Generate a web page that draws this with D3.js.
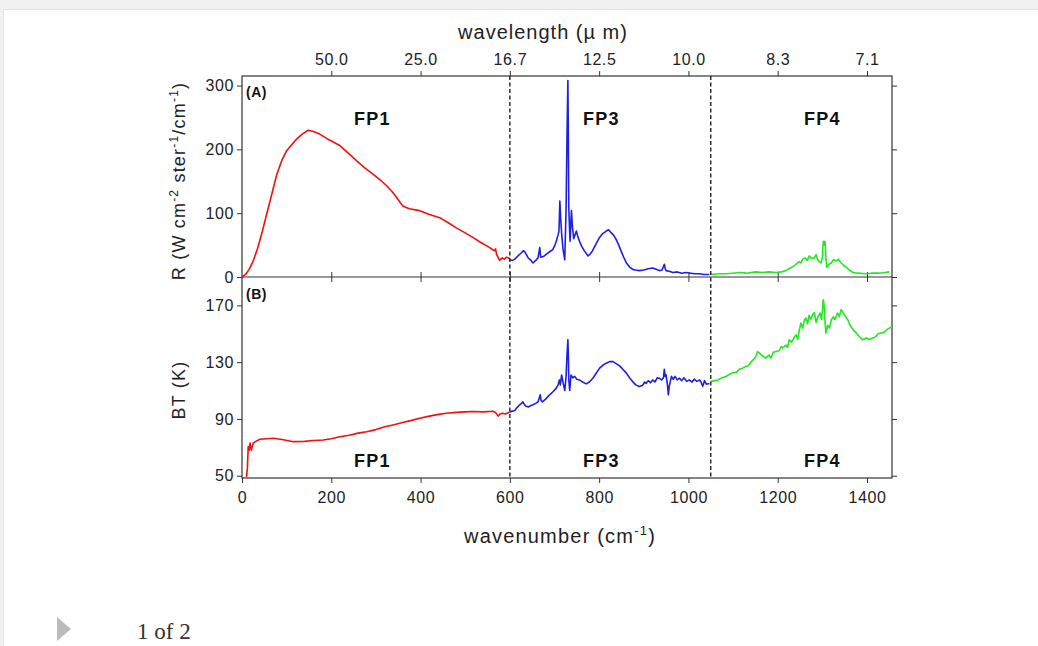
<!DOCTYPE html>
<html>
<head>
<meta charset="utf-8">
<script src="https://cdn.jsdelivr.net/npm/d3@7"></script>
<style>
  html, body { margin: 0; padding: 0; background: #f1f1f1; }
  svg { display: block; font-family: "Liberation Sans", Arial, sans-serif; }
  .axis path, .axis line { stroke: #333; }
  .axis text { font-size: 16px; letter-spacing: 0.6px; fill: #222; font-family: "Liberation Sans", Arial, sans-serif; }
</style>
</head>
<body>
<svg id="chart" width="1038" height="646"></svg>
<script>
// wavenumber ticks (cm-1), top axis shows wavelength 10000/nu
const wnTicks = [0, 200, 400, 600, 800, 1000, 1200, 1400];
const wlTicks = [200, 400, 600, 800, 1000, 1200, 1400];
const rTicks = [0, 100, 200, 300];
const btTicks = [50, 90, 130, 170];
const bandEdges = [600, 1050];
const bands = [
  {name: "FP1", center: 292},
  {name: "FP3", center: 805},
  {name: "FP4", center: 1300}
];

// panel A: radiance, [wavenumber, R]
const fp1R = [[0,0],[8,4],[16,12],[25,25],[35,45],[45,70],[55,98],[65,125],[78,161],[90,184],[100,198],[112,208],[122,216],[135,224],[148,230],[160,228],[174,224],[195,215],[219,206],[240,193],[257,182],[275,171],[294,161],[310,152],[324,143],[336,134],[346,125],[355,116],[361,111],[375,107],[398,104],[420,98],[443,93],[462,85],[480,77],[498,70],[517,62],[535,54],[555,46],[565,41],[568,44],[570,36],[577,26],[583,30],[588,28],[592,31],[600,29]];
const fp3R = [[600,27],[606,26],[611,28],[618,33],[626,38],[630,41],[633,40],[637,35],[641,30],[646,27],[652,22],[658,26],[663,30],[666,42],[667,46],[669,31],[675,32],[682,36],[690,40],[696,43],[701,50],[704,56],[708,66],[710,72],[712,119],[714,90],[716,68],[719,44],[723,27],[726,109],[728,220],[730,308],[731,220],[732,109],[734,70],[735,56],[737,90],[738,104],[740,80],[743,60],[746,66],[749,72],[752,64],[756,56],[761,48],[767,41],[771,37],[775,33],[780,36],[785,41],[793,52],[801,62],[808,68],[816,72],[821,74],[826,70],[832,66],[838,59],[844,50],[849,41],[855,31],[861,22],[868,16],[875,12],[882,11],[890,10],[900,11],[910,13],[920,14],[928,12],[935,10],[941,11],[946,20],[948,13],[950,10],[957,9],[965,7],[975,8],[985,6],[995,7],[1005,6],[1015,5],[1025,5],[1035,4],[1047,4]];
const fp4R = [[1050,4],[1070,5],[1085,5],[1099,6],[1115,7],[1130,6],[1151,8],[1165,7],[1180,8],[1196,7],[1208,8],[1218,10],[1228,14],[1236,17],[1241,20],[1248,24],[1252,22],[1256,28],[1262,30],[1266,26],[1271,33],[1276,29],[1282,30],[1286,35],[1289,28],[1293,24],[1297,22],[1300,30],[1302,56],[1304,50],[1306,56],[1308,30],[1310,15],[1315,20],[1320,22],[1325,27],[1331,25],[1336,28],[1342,22],[1348,18],[1354,15],[1360,11],[1369,7],[1380,6],[1397,5],[1410,6],[1427,6],[1440,7],[1450,8]];

// panel B: brightness temperature, [wavenumber, BT]
const fp1BT = [[10,49],[12,55],[14,70.5],[16,68],[18,73],[21,68],[25,73],[30,74],[40,75.7],[55,76],[70,76.4],[90,75.5],[115,74],[140,74.2],[160,74.8],[182,75.2],[200,76],[219,77.5],[240,78.5],[260,80],[279,81],[300,82.5],[320,84.5],[338,85.8],[360,87.5],[380,89],[398,90.5],[420,92],[440,93.2],[458,94],[480,94.6],[500,95],[517,95.2],[540,95],[562,95.4],[568,94.5],[574,92],[578,93.5],[583,94],[590,93.5],[600,95]];
const fp3BT = [[600,95],[606,95.5],[611,96],[616,98],[622,100],[626,101],[629,102],[633,100],[636,99],[642,98.5],[647,99.5],[652,100],[658,101],[663,102],[666,105],[668,107],[670,103],[673,102],[680,104],[689,107],[696,109],[704,111.7],[708,114],[711,117.5],[713,114],[716,121],[719,116],[723,110],[726,120],[728,135],[730,145.8],[731,135],[732,118],[734,110],[737,121],[741,119],[745,120],[750,118],[756,117.5],[763,116],[771,114.7],[778,116],[786,118.7],[793,122],[801,125.8],[808,127.8],[816,129.3],[823,130.4],[831,130.4],[838,129],[846,127.4],[853,125],[861,122.3],[868,119],[875,116.3],[882,114],[890,112.8],[897,113.5],[902,116],[905,115],[910,117],[915,115.5],[920,117.5],[925,116],[930,119],[935,118.6],[940,117.5],[944,119],[946,125],[948,120],[950,121],[953,114],[955,107],[957,113],[962,120],[966,118],[970,120],[975,117.5],[980,118.7],[985,117],[990,119],[996,116.5],[1002,117.5],[1008,116],[1013,118],[1019,116.5],[1025,117.5],[1028,116],[1032,113],[1036,117],[1040,114.5],[1047,115]];
const fp4BT = [[1050,116.3],[1058,117],[1066,117.5],[1075,119],[1084,119.9],[1092,121.5],[1100,122.5],[1108,123],[1114,125],[1121,125.8],[1128,127],[1134,127.5],[1140,130],[1146,132],[1151,134],[1155,137.5],[1160,136],[1166,134.5],[1173,132.8],[1180,135],[1185,133],[1190,137],[1196,137.5],[1203,138],[1208,141],[1211,140],[1218,142],[1222,140.5],[1226,145.8],[1231,144],[1236,147],[1241,149.3],[1245,146],[1248,152],[1252,157.6],[1256,154],[1260,160],[1263,161],[1267,157],[1270,163],[1274,160],[1278,163.4],[1282,165],[1286,158],[1290,162],[1295,164.6],[1298,160],[1300,166],[1302,174],[1304,170],[1306,158],[1308,150.5],[1312,156],[1316,154],[1320,159.9],[1325,162],[1328,160],[1334,164.6],[1338,162],[1342,167],[1345,165.8],[1350,163],[1357,159.9],[1362,156],[1369,152.8],[1375,151],[1380,149],[1386,147],[1391,145.8],[1398,147],[1405,146],[1413,147],[1420,148],[1425,150],[1431,150.5],[1438,151],[1445,153],[1450,154],[1456,155]];

const seriesA = [
  {data: fp1R, color: "#f01010"},
  {data: fp3R, color: "#1f1fe0"},
  {data: fp4R, color: "#22e822"}
];
const seriesB = [
  {data: fp1BT, color: "#f01010"},
  {data: fp3BT, color: "#1f1fe0"},
  {data: fp4BT, color: "#22e822"}
];

const svg = d3.select("#chart");
const plotLeft = 242, plotRight = 892, plotTop = 76, plotMid = 277, plotBottom = 478;

// page card
svg.append("rect").attr("x", 0).attr("y", 0).attr("width", 1038).attr("height", 646).attr("fill", "#f1f1f1");
svg.append("rect").attr("x", 3.5).attr("y", 9.5).attr("width", 1040).attr("height", 640)
    .attr("fill", "#fff").attr("stroke", "#e4e4e4");

const x = d3.scaleLinear().domain([0, 1456]).range([plotLeft, plotRight]);
const yA = d3.scaleLinear().domain([0, 315]).range([plotMid, plotTop]);
const yB = d3.scaleLinear().domain([48.4, 190]).range([plotBottom, plotMid]);

function styleAxis(g) {
  g.attr("class", "axis");
  g.select(".domain").remove();
}

// axes
svg.append("g").attr("transform", `translate(${plotLeft},0)`)
    .call(d3.axisLeft(yA).tickValues(rTicks).tickSize(5).tickPadding(3)).call(styleAxis);
svg.append("g").attr("transform", `translate(${plotLeft},0)`)
    .call(d3.axisLeft(yB).tickValues(btTicks).tickSize(5).tickPadding(3)).call(styleAxis);
svg.append("g").attr("transform", `translate(${plotRight},0)`)
    .call(d3.axisRight(yA).tickValues(rTicks).tickSize(5).tickFormat("")).call(styleAxis);
svg.append("g").attr("transform", `translate(${plotRight},0)`)
    .call(d3.axisRight(yB).tickValues(btTicks).tickSize(5).tickFormat("")).call(styleAxis);
svg.append("g").attr("transform", `translate(0,${plotBottom})`)
    .call(d3.axisBottom(x).tickValues(wnTicks).tickSize(5).tickPadding(9).tickFormat(d3.format("d")))
    .call(styleAxis);
svg.append("g").attr("transform", `translate(0,${plotTop})`)
    .call(d3.axisTop(x).tickValues(wlTicks).tickSize(5).tickPadding(6)
      .tickFormat(d => (10000 / d).toFixed(1))).call(styleAxis);
// ticks on the shared middle line, both directions
svg.append("g").attr("transform", `translate(0,${plotMid})`)
    .call(d3.axisBottom(x).tickValues(wnTicks.slice(1)).tickSize(5).tickFormat("")).call(styleAxis);
svg.append("g").attr("transform", `translate(0,${plotMid})`)
    .call(d3.axisTop(x).tickValues(wnTicks.slice(1)).tickSize(5).tickFormat("")).call(styleAxis);

// frame
svg.append("rect").attr("x", plotLeft).attr("y", plotTop)
    .attr("width", plotRight - plotLeft).attr("height", plotBottom - plotTop)
    .attr("fill", "none").attr("stroke", "#333").attr("stroke-width", 1.2);
svg.append("line").attr("x1", plotLeft).attr("x2", plotRight).attr("y1", plotMid).attr("y2", plotMid)
    .attr("stroke", "#333").attr("stroke-width", 1.2);

// spectra
const lineA = d3.line().x(d => x(d[0])).y(d => yA(d[1]));
const lineB = d3.line().x(d => x(d[0])).y(d => yB(d[1]));
svg.append("g").selectAll("path").data(seriesA).join("path")
    .attr("d", d => lineA(d.data)).attr("fill", "none")
    .attr("stroke", d => d.color).attr("stroke-width", 1.6).attr("stroke-linejoin", "round");
svg.append("g").selectAll("path").data(seriesB).join("path")
    .attr("d", d => lineB(d.data)).attr("fill", "none")
    .attr("stroke", d => d.color).attr("stroke-width", 1.6).attr("stroke-linejoin", "round");

// band edges
svg.append("g").selectAll("line").data(bandEdges).join("line")
    .attr("x1", d => x(d)).attr("x2", d => x(d)).attr("y1", plotTop).attr("y2", plotBottom)
    .attr("stroke", "#222").attr("stroke-width", 1.4).attr("stroke-dasharray", "4,2.5");

// band labels
svg.append("g").selectAll("text").data(bands).join("text")
    .attr("x", d => x(d.center)).attr("y", 125).attr("text-anchor", "middle")
    .attr("font-size", 18).attr("letter-spacing", 1.2).attr("font-weight", "bold").attr("fill", "#111")
    .text(d => d.name);
svg.append("g").selectAll("text").data(bands).join("text")
    .attr("x", d => x(d.center)).attr("y", 467).attr("text-anchor", "middle")
    .attr("font-size", 18).attr("letter-spacing", 1.2).attr("font-weight", "bold").attr("fill", "#111")
    .text(d => d.name);

svg.append("text").attr("x", 246).attr("y", 97).attr("font-size", 14).attr("letter-spacing", 0.5)
    .attr("font-weight", "bold").attr("fill", "#111").text("(A)");
svg.append("text").attr("x", 246).attr("y", 299).attr("font-size", 14).attr("letter-spacing", 0.5)
    .attr("font-weight", "bold").attr("fill", "#111").text("(B)");

// axis titles
svg.append("text").attr("x", 543).attr("y", 39).attr("text-anchor", "middle")
    .attr("font-size", 20).attr("letter-spacing", 1).attr("fill", "#222").text("wavelength (\u00b5 m)");

const xt = svg.append("text").attr("x", 560).attr("y", 543).attr("text-anchor", "middle")
    .attr("font-size", 20).attr("letter-spacing", 1.2).attr("fill", "#222");
xt.append("tspan").text("wavenumber (cm");
xt.append("tspan").attr("font-size", 13).attr("dy", -8).text("-1");
xt.append("tspan").attr("dy", 8).text(")");

const yt = svg.append("text").attr("transform", `translate(185,181) rotate(-90)`)
    .attr("text-anchor", "middle").attr("font-size", 18).attr("letter-spacing", 1.2).attr("fill", "#222");
yt.append("tspan").text("R  (W cm");
yt.append("tspan").attr("font-size", 12).attr("dy", -7).text("-2");
yt.append("tspan").attr("dy", 7).text(" ster");
yt.append("tspan").attr("font-size", 12).attr("dy", -7).text("-1");
yt.append("tspan").attr("dy", 7).text("/cm");
yt.append("tspan").attr("font-size", 12).attr("dy", -7).text("-1");
yt.append("tspan").attr("dy", 7).text(")");

svg.append("text").attr("transform", `translate(185,390) rotate(-90)`)
    .attr("text-anchor", "middle").attr("font-size", 18).attr("letter-spacing", 1.2).attr("fill", "#222")
    .text("BT (K)");

// gallery footer
svg.append("path").attr("d", "M57,617 L71,629 L57,641 Z").attr("fill", "#bbb");
svg.append("text").attr("x", 137).attr("y", 639).attr("font-family", "'Liberation Serif', 'DejaVu Serif', serif")
    .attr("font-size", 23).attr("fill", "#333").text("1 of 2");
</script>
</body>
</html>
